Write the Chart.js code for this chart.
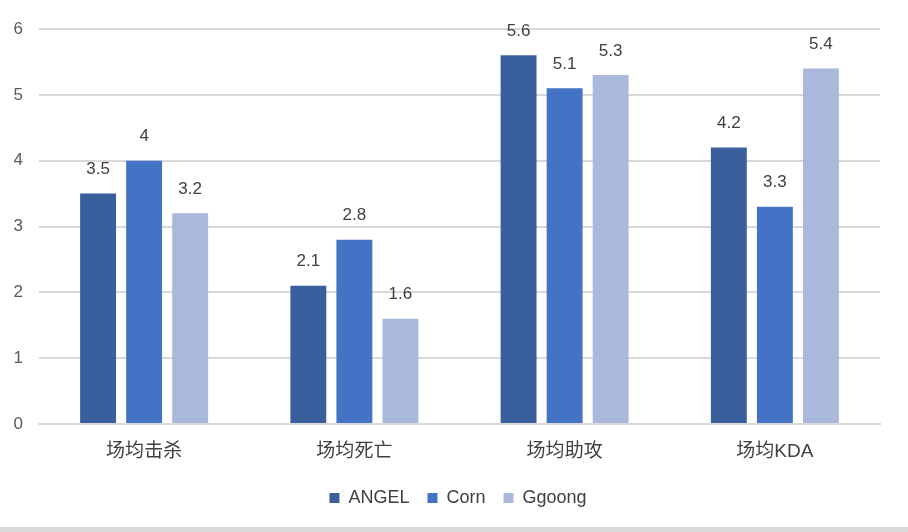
<!DOCTYPE html>
<html><head><meta charset="utf-8">
<script src="https://cdn.jsdelivr.net/npm/chart.js@4/dist/chart.umd.min.js"></script>
<style>
html,body{margin:0;padding:0;background:#fff;}
#wrap{position:relative;width:908px;height:527px;}
#strip{width:908px;height:5px;background:#d9d9d9;}
</style></head>
<body>
<div id="wrap"><canvas id="c" width="908" height="527"></canvas></div>
<div id="strip"></div>
<script>
const categories = ['场均击杀','场均死亡','场均助攻','场均KDA'];
const angel = [3.5, 2.1, 5.6, 4.2];
const corn = [4, 2.8, 5.1, 3.3];
const ggoong = [3.2, 1.6, 5.3, 5.4];
const seriesNames = ['ANGEL','Corn','Ggoong'];
const yTicks = [0,1,2,3,4,5,6];
const colors = ['#3A5F9D','#4472C4','#A9B8DB'];
const FONT = "'Liberation Sans','Noto Sans CJK SC',Arial,sans-serif";

const labelPlugin = {
  id:'vals',
  afterLayout(chart){
    if (chart.legend) { chart.legend.left += 18; chart.legend.right += 18; }
  },
  afterDatasetsDraw(chart){
    const ctx = chart.ctx;
    ctx.save();
    ctx.fillStyle = '#404040';
    ctx.font = "17px 'Liberation Sans', Arial, sans-serif";
    ctx.textAlign = 'center';
    ctx.textBaseline = 'middle';
    chart.data.datasets.forEach((ds,i)=>{
      const meta = chart.getDatasetMeta(i);
      meta.data.forEach((bar,j)=>{
        ctx.fillText(String(ds.data[j]), bar.x, bar.y - 24);
      });
    });
    ctx.restore();
  }
};

new Chart(document.getElementById('c'),{
  type:'bar',
  data:{
    labels:categories,
    datasets:[
      {label:seriesNames[0],data:angel,backgroundColor:colors[0]},
      {label:seriesNames[1],data:corn,backgroundColor:colors[1]},
      {label:seriesNames[2],data:ggoong,backgroundColor:colors[2]}
    ]
  },
  options:{
    responsive:false,
    animation:false,
    devicePixelRatio:1,
    layout:{padding:{top:29,right:28,left:0,bottom:10}},
    datasets:{bar:{categoryPercentage:0.657,barPercentage:0.78}},
    scales:{
      x:{
        grid:{display:false},
        border:{color:'#d9d9d9',width:2},
        ticks:{color:'#404040',font:{family:FONT,size:19},padding:8},
        afterFit(s){s.height=47;}
      },
      y:{
        min:0,max:6,
        afterBuildTicks(s){s.ticks=yTicks.map(v=>({value:v}));},
        grid:{color:'#d9d9d9',lineWidth:2,drawTicks:false},
        border:{display:false},
        ticks:{color:'#595959',font:{family:"'Liberation Sans',Arial,sans-serif",size:17},padding:16},
        afterFit(s){s.width=39;}
      }
    },
    plugins:{
      legend:{
        position:'bottom',
        labels:{boxWidth:10,boxHeight:10,color:'#404040',font:{family:"'Liberation Sans',Arial,sans-serif",size:18},padding:18}
      },
      tooltip:{enabled:false}
    }
  },
  plugins:[labelPlugin]
});
</script>
</body></html>
